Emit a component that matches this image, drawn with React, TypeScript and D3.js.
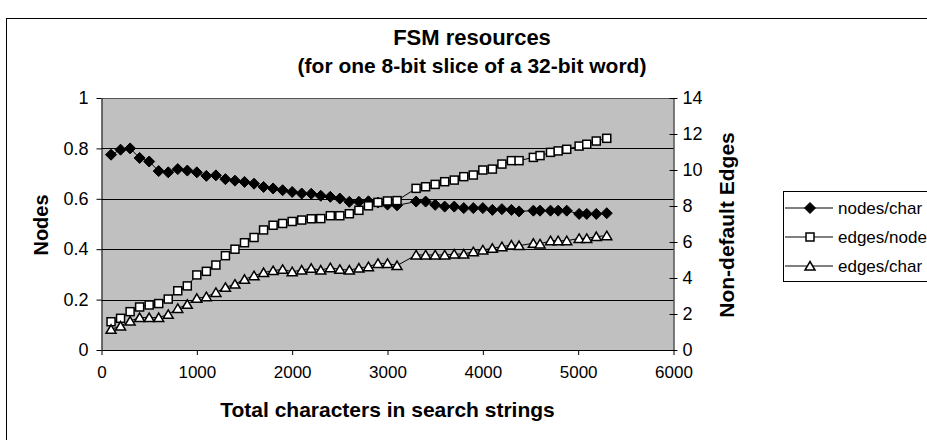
import React, { useRef, useEffect } from 'react';
import * as d3 from 'd3';

// total characters in search strings
const chars = [100, 200, 300, 400, 500, 600, 700, 800, 900, 1000, 1100, 1200, 1300, 1400, 1500, 1600, 1700, 1800, 1900, 2000,
  2100, 2200, 2300, 2400, 2500, 2600, 2700, 2800, 2900, 3000, 3100, 3300, 3400, 3500, 3600, 3700, 3800, 3900, 4000, 4100,
  4200, 4300, 4380, 4530, 4600, 4710, 4790, 4880, 5010, 5090, 5190, 5300];

// left axis
const nodesPerChar = [0.775, 0.795, 0.8, 0.762, 0.748, 0.71, 0.705, 0.718, 0.712, 0.705, 0.691, 0.693, 0.678, 0.672, 0.667, 0.66,
  0.647, 0.641, 0.634, 0.627, 0.621, 0.62, 0.612, 0.608, 0.601, 0.588, 0.588, 0.59, 0.585, 0.577, 0.574, 0.589, 0.589, 0.576,
  0.569, 0.569, 0.563, 0.563, 0.563, 0.556, 0.559, 0.556, 0.55, 0.553, 0.553, 0.553, 0.553, 0.553, 0.54, 0.54, 0.54, 0.543];

// right axis
const edgesPerNode = [1.57, 1.76, 2.13, 2.39, 2.5, 2.58, 2.83, 3.29, 3.56, 4.17, 4.37, 4.72, 5.24, 5.6, 5.96, 6.25, 6.67, 6.93,
  7.03, 7.14, 7.22, 7.29, 7.3, 7.46, 7.46, 7.57, 7.76, 8.01, 8.2, 8.28, 8.3, 8.98, 9.07, 9.2, 9.35, 9.44, 9.63, 9.72, 10.0,
  10.05, 10.33, 10.52, 10.52, 10.7, 10.8, 10.98, 11.06, 11.15, 11.33, 11.43, 11.61, 11.76];

const edgesPerChar = [1.15, 1.33, 1.61, 1.8, 1.8, 1.8, 1.98, 2.31, 2.54, 2.87, 2.96, 3.2, 3.48, 3.66, 3.93, 4.13, 4.3, 4.41,
  4.48, 4.35, 4.44, 4.54, 4.44, 4.57, 4.48, 4.44, 4.55, 4.63, 4.81, 4.81, 4.69, 5.28, 5.28, 5.28, 5.28, 5.33, 5.33, 5.46, 5.56,
  5.65, 5.74, 5.83, 5.8, 5.93, 5.89, 6.07, 6.07, 6.07, 6.2, 6.2, 6.3, 6.35];

const xTicks = [0, 1000, 2000, 3000, 4000, 5000, 6000];
const leftTicks = [0, 0.2, 0.4, 0.6, 0.8, 1];
const rightTicks = [0, 2, 4, 6, 8, 10, 12, 14];
const seriesNames = ['nodes/char', 'edges/node', 'edges/char'];

const FONT = '"Liberation Sans", Arial, sans-serif';

const App = () => {
  const svgRef = useRef(null);

  useEffect(() => {
    const width = 927;
    const height = 440;
    const svg = d3.select(svgRef.current);
    svg.selectAll('*').remove();
    svg.attr('width', width).attr('height', height).style('font-family', FONT);

    const left = 101.5, right = 673.5, top = 98, bottom = 350;
    const x = d3.scaleLinear().domain([0, 6000]).range([left, right]);
    const yL = d3.scaleLinear().domain([0, 1]).range([bottom, top]);
    const yR = d3.scaleLinear().domain([0, 14]).range([bottom, top]);

    // chart frame
    svg.append('rect').attr('width', width).attr('height', height).attr('fill', '#fff');
    svg.append('rect').attr('x', 6.5).attr('y', 18.5).attr('width', 1000).attr('height', 1000)
      .attr('fill', 'none').attr('stroke', '#000');

    // titles
    svg.append('text').attr('x', 472).attr('y', 45).attr('text-anchor', 'middle')
      .style('font-size', '22px').style('font-weight', 'bold').text('FSM resources');
    svg.append('text').attr('x', 472).attr('y', 73).attr('text-anchor', 'middle')
      .style('font-size', '21px').style('font-weight', 'bold').text('(for one 8-bit slice of a 32-bit word)');

    // plot area
    svg.append('rect').attr('x', left).attr('y', top).attr('width', right - left).attr('height', bottom - top)
      .attr('fill', '#c0c0c0');

    // gridlines
    svg.append('g').selectAll('line').data(leftTicks.filter(d => d > 0)).enter().append('line')
      .attr('x1', left).attr('x2', right)
      .attr('y1', d => Math.round(yL(d)) + 0.5).attr('y2', d => Math.round(yL(d)) + 0.5)
      .attr('stroke', d => (d === 1 ? '#555' : '#000'));

    // axes
    const axisStyle = (g, size) => {
      g.select('.domain').attr('stroke', '#000');
      g.selectAll('.tick line').attr('stroke', '#000');
      g.selectAll('.tick text').attr('fill', '#000').style('font-size', size).style('font-family', FONT);
    };

    svg.append('g').attr('transform', `translate(0,${bottom})`)
      .call(d3.axisBottom(x).tickValues(xTicks).tickFormat(d3.format('d')).tickSize(5).tickSizeOuter(0).tickPadding(11))
      .call(g => axisStyle(g, '17px'));

    svg.append('g').attr('transform', `translate(${left},0)`)
      .call(d3.axisLeft(yL).tickValues(leftTicks).tickFormat(d3.format('')).tickSize(5).tickSizeOuter(0).tickPadding(8))
      .call(g => axisStyle(g, '18px'));

    const gr = svg.append('g').attr('transform', `translate(${right},0)`)
      .call(d3.axisRight(yR).tickValues(rightTicks).tickSize(4).tickSizeOuter(0).tickPadding(5))
      .call(g => axisStyle(g, '18px'));
    gr.selectAll('.tick line').attr('x1', -4);

    // axis titles
    svg.append('text').attr('x', 102 + (673 - 102) / 2).attr('y', 417).attr('text-anchor', 'middle')
      .style('font-size', '21px').style('font-weight', 'bold').text('Total characters in search strings');
    svg.append('text').attr('transform', `translate(48,225) rotate(-90)`).attr('text-anchor', 'middle')
      .style('font-size', '20px').style('font-weight', 'bold').text('Nodes');
    svg.append('text').attr('transform', `translate(734,225) rotate(-90)`).attr('text-anchor', 'middle')
      .style('font-size', '21px').style('font-weight', 'bold').text('Non-default Edges');

    // markers
    const diamond = (g, cx, cy) => g.append('path')
      .attr('d', `M${cx},${cy - 5.5}L${cx + 5.5},${cy}L${cx},${cy + 5.5}L${cx - 5.5},${cy}Z`)
      .attr('fill', '#000').attr('stroke', '#000').attr('stroke-width', 1);
    const square = (g, cx, cy) => g.append('rect')
      .attr('x', cx - 4).attr('y', cy - 4).attr('width', 8).attr('height', 8)
      .attr('fill', '#fff').attr('stroke', '#000').attr('stroke-width', 1.5);
    const triangle = (g, cx, cy) => g.append('path')
      .attr('d', `M${cx},${cy - 4.5}L${cx + 5},${cy + 4}L${cx - 5},${cy + 4}Z`)
      .attr('fill', '#fff').attr('stroke', '#000').attr('stroke-width', 1.5).attr('stroke-linejoin', 'miter');

    const series = [
      { values: nodesPerChar, y: yL, marker: diamond },
      { values: edgesPerNode, y: yR, marker: square },
      { values: edgesPerChar, y: yR, marker: triangle },
    ];

    series.forEach(s => {
      const line = d3.line().x((d, i) => x(chars[i])).y(d => s.y(d));
      svg.append('path').datum(s.values).attr('d', line)
        .attr('fill', 'none').attr('stroke', '#000').attr('stroke-width', 1);
      const g = svg.append('g');
      s.values.forEach((v, i) => s.marker(g, x(chars[i]), s.y(v)));
    });

    // legend (runs past the right edge, as in the original)
    const lg = svg.append('g');
    lg.append('rect').attr('x', 783.5).attr('y', 191.5).attr('width', 200).attr('height', 90)
      .attr('fill', '#fff').attr('stroke', '#000');
    const legendY = [208, 237, 266];
    seriesNames.forEach((name, i) => {
      const ly = legendY[i];
      lg.append('line').attr('x1', 785).attr('x2', 833).attr('y1', ly).attr('y2', ly).attr('stroke', '#000');
      series[i].marker(lg, 810, ly);
      lg.append('text').attr('x', 838).attr('y', ly + 6).style('font-size', '17px').text(name);
    });
  }, []);

  return (
    <div style={{ position: 'absolute', left: 0, top: 0 }}>
      <svg ref={svgRef} />
    </div>
  );
};

export default App;
